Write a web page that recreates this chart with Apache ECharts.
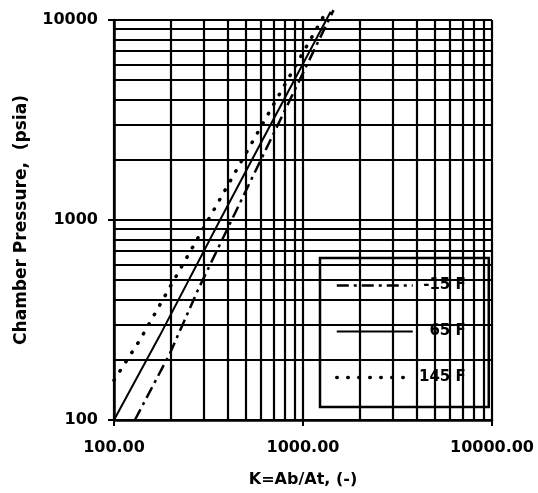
<!DOCTYPE html>
<html>
<head>
<meta charset="utf-8">
<script src="https://cdn.jsdelivr.net/npm/echarts@6/dist/echarts.min.js"></script>
<style>
html,body{margin:0;padding:0;background:#fff;}
#chart{width:538px;height:493px;}
</style>
</head>
<body>
<div id="chart"></div>
<script>
// Series names
const seriesNames = ['-15 F', '65 F', '145 F'];
// -15 F (dash-dot)
const kMinus15 = [129, 198, 278, 453, 1450];
const pMinus15 = [100, 216, 447, 1161, 11200];
// 65 F (solid)
const k65 = [100, 175, 364, 537, 1400];
const p65 = [100, 265, 1000, 2000, 11000];
// 145 F (dotted)
const k145 = [100, 137, 342, 1290];
const p145 = [158, 251, 1148, 10500];
// Grid line values (both axes share decades 100..10000)
const gridValues = [100,200,300,400,500,600,700,800,900,1000,2000,3000,4000,5000,6000,7000,8000,9000,10000];
const xName = 'K=Ab/At, (-)';
const yName = 'Chamber Pressure,  (psia)';

const zip = (a, b) => a.map((v, i) => [v, b[i]]);
const font = 'DejaVu Sans';
const styles = [
  { color: '#000', width: 2.5, type: [12, 5, 3, 5] },
  { color: '#000', width: 2, type: 'solid' },
  { color: '#000', width: 3.5, type: [0.5, 10.5], cap: 'round' }
];

const chart = echarts.init(document.getElementById('chart'));
chart.setOption({
  animation: false,
  backgroundColor: '#fff',
  grid: { left: 114, right: 46, top: 20, bottom: 73 },
  xAxis: {
    type: 'log', logBase: 10, min: 100, max: 10000,
    name: xName, nameLocation: 'middle', nameGap: 52,
    nameTextStyle: { fontFamily: font, fontWeight: 'bold', fontSize: 16, color: '#000' },
    axisLine: { show: true, lineStyle: { color: '#000', width: 2.5 } },
    axisTick: { show: true, length: 6, lineStyle: { color: '#000', width: 2 } },
    axisLabel: { margin: 20, fontFamily: font, fontWeight: 'bold', fontSize: 16, color: '#000',
      formatter: v => Number(v).toFixed(2) },
    splitLine: { show: false }
  },
  yAxis: {
    type: 'log', logBase: 10, min: 100, max: 10000,
    name: yName, nameLocation: 'middle', nameGap: 84, nameRotate: 90,
    nameTextStyle: { fontFamily: font, fontWeight: 'bold', fontSize: 17, color: '#000' },
    axisLine: { show: true, lineStyle: { color: '#000', width: 2.5 } },
    axisTick: { show: true, length: 6, lineStyle: { color: '#000', width: 2 } },
    axisLabel: { margin: 16, fontFamily: font, fontWeight: 'bold', fontSize: 16, color: '#000',
      formatter: v => String(Math.round(v)) },
    splitLine: { show: false }
  },
  legend: {
    data: seriesNames.map((n, i) => ({
      name: n,
      itemStyle: { opacity: 0 },
      lineStyle: Object.assign({ opacity: 1 }, styles[i])
    })),
    orient: 'vertical',
    left: 320, top: 258,
    padding: [20, 23, 22, 15],
    itemGap: 31,
    itemWidth: 76, itemHeight: 14,
    backgroundColor: '#fff',
    borderColor: '#000', borderWidth: 2.5, borderRadius: 0,
    textStyle: {
      fontFamily: font, fontWeight: 'bold', fontSize: 15, color: '#000',
      rich: { r: { width: 48, align: 'right', fontFamily: font, fontWeight: 'bold', fontSize: 15, color: '#000' } }
    },
    formatter: name => '{r|' + name + '}'
  },
  series: [
    {
      name: 'grid', type: 'line', data: [], silent: true, z: 1,
      markLine: {
        silent: true, symbol: ['none', 'none'], label: { show: false },
        animation: false,
        lineStyle: { color: '#000', width: 2.2, type: 'solid' },
        emphasis: { disabled: true },
        data: gridValues.map(v => ({ xAxis: v })).concat(gridValues.map(v => ({ yAxis: v })))
      }
    },
    {
      name: seriesNames[0], type: 'line', data: zip(kMinus15, pMinus15), clip: false, z: 5,
      symbol: 'none', lineStyle: styles[0], itemStyle: { color: '#000' }
    },
    {
      name: seriesNames[1], type: 'line', data: zip(k65, p65), clip: false, z: 5,
      symbol: 'none', lineStyle: styles[1], itemStyle: { color: '#000' }
    },
    {
      name: seriesNames[2], type: 'line', data: zip(k145, p145), clip: false, z: 5,
      symbol: 'none', lineStyle: styles[2], itemStyle: { color: '#000' }
    }
  ]
});
</script>
</body>
</html>
